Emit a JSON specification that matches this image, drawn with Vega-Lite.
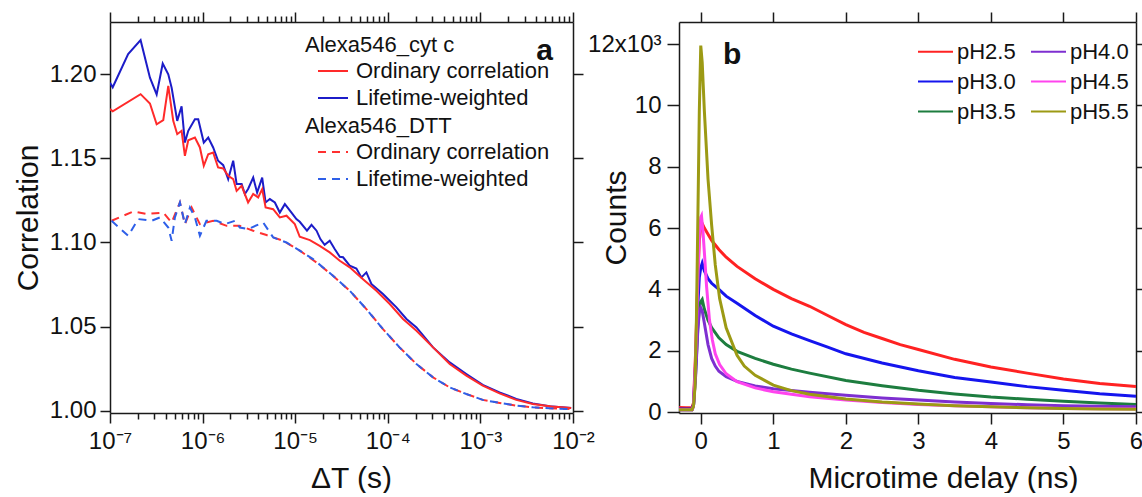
{
"$schema": "https://vega.github.io/schema/vega-lite/v6.json",
"padding": {"left": 13, "top": 11, "right": 0, "bottom": 0},
"spacing": 106,
"bounds": "flush",
"config": {
  "font": "Liberation Sans",
  "view": {"stroke": null},
  "axis": {"grid": false, "domainColor": "#1a1a1a", "domainWidth": 1.5, "tickColor": "#1a1a1a", "tickWidth": 1.5, "labelFont": "Liberation Sans", "labelFontSize": 24, "labelColor": "#111111", "titleFont": "Liberation Sans", "titleFontSize": 30, "titleFontWeight": "normal", "titleColor": "#111111", "labelFlush": false, "labelOverlap": false},
  "legend": {"labelFont": "Liberation Sans", "labelFontSize": 22, "labelColor": "#111111", "titleFont": "Liberation Sans", "titleFontSize": 22, "titleFontWeight": "normal", "titleColor": "#111111", "symbolType": "stroke", "padding": 0, "labelLimit": 400, "titleLimit": 400},
  "title": {"font": "Liberation Sans", "fontSize": 30, "fontWeight": "bold", "color": "#111111"}
},
"datasets": {
  "cyt": [
    {"t": 1.0e-7, "g": 1.195, "s": "Lifetime-weighted"},
    {"t": 1.07e-7, "g": 1.1923, "s": "Lifetime-weighted"},
    {"t": 1.57e-7, "g": 1.212, "s": "Lifetime-weighted"},
    {"t": 2.14e-7, "g": 1.2203, "s": "Lifetime-weighted"},
    {"t": 2.7e-7, "g": 1.198, "s": "Lifetime-weighted"},
    {"t": 3.19e-7, "g": 1.188, "s": "Lifetime-weighted"},
    {"t": 3.71e-7, "g": 1.2064, "s": "Lifetime-weighted"},
    {"t": 4.26e-7, "g": 1.2, "s": "Lifetime-weighted"},
    {"t": 4.63e-7, "g": 1.192, "s": "Lifetime-weighted"},
    {"t": 5.32e-7, "g": 1.1723, "s": "Lifetime-weighted"},
    {"t": 5.93e-7, "g": 1.181, "s": "Lifetime-weighted"},
    {"t": 6.44e-7, "g": 1.1594, "s": "Lifetime-weighted"},
    {"t": 7.0e-7, "g": 1.1664, "s": "Lifetime-weighted"},
    {"t": 8.26e-7, "g": 1.1733, "s": "Lifetime-weighted"},
    {"t": 8.97e-7, "g": 1.1733, "s": "Lifetime-weighted"},
    {"t": 1.03e-6, "g": 1.1594, "s": "Lifetime-weighted"},
    {"t": 1.15e-6, "g": 1.1624, "s": "Lifetime-weighted"},
    {"t": 1.3e-6, "g": 1.1565, "s": "Lifetime-weighted"},
    {"t": 1.47e-6, "g": 1.1486, "s": "Lifetime-weighted"},
    {"t": 1.67e-6, "g": 1.146, "s": "Lifetime-weighted"},
    {"t": 1.89e-6, "g": 1.1377, "s": "Lifetime-weighted"},
    {"t": 2.14e-6, "g": 1.1486, "s": "Lifetime-weighted"},
    {"t": 2.33e-6, "g": 1.1347, "s": "Lifetime-weighted"},
    {"t": 2.64e-6, "g": 1.1347, "s": "Lifetime-weighted"},
    {"t": 2.86e-6, "g": 1.1288, "s": "Lifetime-weighted"},
    {"t": 3.1e-6, "g": 1.1318, "s": "Lifetime-weighted"},
    {"t": 3.52e-6, "g": 1.1386, "s": "Lifetime-weighted"},
    {"t": 3.88e-6, "g": 1.1297, "s": "Lifetime-weighted"},
    {"t": 4.4e-6, "g": 1.1386, "s": "Lifetime-weighted"},
    {"t": 4.79e-6, "g": 1.1238, "s": "Lifetime-weighted"},
    {"t": 5.32e-6, "g": 1.1258, "s": "Lifetime-weighted"},
    {"t": 6.03e-6, "g": 1.1238, "s": "Lifetime-weighted"},
    {"t": 6.82e-6, "g": 1.1178, "s": "Lifetime-weighted"},
    {"t": 7.73e-6, "g": 1.1228, "s": "Lifetime-weighted"},
    {"t": 9.12e-6, "g": 1.1178, "s": "Lifetime-weighted"},
    {"t": 1.03e-5, "g": 1.1139, "s": "Lifetime-weighted"},
    {"t": 1.12e-5, "g": 1.1123, "s": "Lifetime-weighted"},
    {"t": 1.34e-5, "g": 1.107, "s": "Lifetime-weighted"},
    {"t": 1.5e-5, "g": 1.1105, "s": "Lifetime-weighted"},
    {"t": 1.7e-5, "g": 1.107, "s": "Lifetime-weighted"},
    {"t": 1.87e-5, "g": 1.102, "s": "Lifetime-weighted"},
    {"t": 2.08e-5, "g": 1.0986, "s": "Lifetime-weighted"},
    {"t": 2.36e-5, "g": 1.101, "s": "Lifetime-weighted"},
    {"t": 2.67e-5, "g": 1.0961, "s": "Lifetime-weighted"},
    {"t": 3.03e-5, "g": 1.0915, "s": "Lifetime-weighted"},
    {"t": 3.29e-5, "g": 1.0912, "s": "Lifetime-weighted"},
    {"t": 3.88e-5, "g": 1.0862, "s": "Lifetime-weighted"},
    {"t": 4.58e-5, "g": 1.0845, "s": "Lifetime-weighted"},
    {"t": 5.19e-5, "g": 1.0792, "s": "Lifetime-weighted"},
    {"t": 5.87e-5, "g": 1.0822, "s": "Lifetime-weighted"},
    {"t": 6.65e-5, "g": 1.0753, "s": "Lifetime-weighted"},
    {"t": 8.87e-5, "g": 1.0693, "s": "Lifetime-weighted"},
    {"t": 1.24e-4, "g": 1.0614, "s": "Lifetime-weighted"},
    {"t": 1.59e-4, "g": 1.0545, "s": "Lifetime-weighted"},
    {"t": 2.04e-4, "g": 1.0495, "s": "Lifetime-weighted"},
    {"t": 3.08e-4, "g": 1.0376, "s": "Lifetime-weighted"},
    {"t": 4.66e-4, "g": 1.0287, "s": "Lifetime-weighted"},
    {"t": 7.05e-4, "g": 1.0218, "s": "Lifetime-weighted"},
    {"t": 1.06e-3, "g": 1.0153, "s": "Lifetime-weighted"},
    {"t": 1.61e-3, "g": 1.0109, "s": "Lifetime-weighted"},
    {"t": 2.44e-3, "g": 1.007, "s": "Lifetime-weighted"},
    {"t": 3.68e-3, "g": 1.0043, "s": "Lifetime-weighted"},
    {"t": 5.57e-3, "g": 1.0026, "s": "Lifetime-weighted"},
    {"t": 9.55e-3, "g": 1.0016, "s": "Lifetime-weighted"},
    {"t": 1.0e-7, "g": 1.1793, "s": "Ordinary correlation"},
    {"t": 1.07e-7, "g": 1.178, "s": "Ordinary correlation"},
    {"t": 2.14e-7, "g": 1.1882, "s": "Ordinary correlation"},
    {"t": 2.7e-7, "g": 1.1826, "s": "Ordinary correlation"},
    {"t": 3.19e-7, "g": 1.1703, "s": "Ordinary correlation"},
    {"t": 3.76e-7, "g": 1.1727, "s": "Ordinary correlation"},
    {"t": 4.26e-7, "g": 1.1931, "s": "Ordinary correlation"},
    {"t": 4.82e-7, "g": 1.1723, "s": "Ordinary correlation"},
    {"t": 5.32e-7, "g": 1.1644, "s": "Ordinary correlation"},
    {"t": 5.93e-7, "g": 1.1664, "s": "Ordinary correlation"},
    {"t": 6.44e-7, "g": 1.1515, "s": "Ordinary correlation"},
    {"t": 7.0e-7, "g": 1.1608, "s": "Ordinary correlation"},
    {"t": 8.26e-7, "g": 1.1624, "s": "Ordinary correlation"},
    {"t": 9.35e-7, "g": 1.1565, "s": "Ordinary correlation"},
    {"t": 1.03e-6, "g": 1.1456, "s": "Ordinary correlation"},
    {"t": 1.15e-6, "g": 1.1525, "s": "Ordinary correlation"},
    {"t": 1.3e-6, "g": 1.1535, "s": "Ordinary correlation"},
    {"t": 1.47e-6, "g": 1.1446, "s": "Ordinary correlation"},
    {"t": 1.67e-6, "g": 1.144, "s": "Ordinary correlation"},
    {"t": 1.89e-6, "g": 1.1396, "s": "Ordinary correlation"},
    {"t": 2.14e-6, "g": 1.1377, "s": "Ordinary correlation"},
    {"t": 2.33e-6, "g": 1.1307, "s": "Ordinary correlation"},
    {"t": 2.64e-6, "g": 1.1337, "s": "Ordinary correlation"},
    {"t": 3.1e-6, "g": 1.1238, "s": "Ordinary correlation"},
    {"t": 3.52e-6, "g": 1.1288, "s": "Ordinary correlation"},
    {"t": 3.98e-6, "g": 1.1268, "s": "Ordinary correlation"},
    {"t": 4.4e-6, "g": 1.1317, "s": "Ordinary correlation"},
    {"t": 4.79e-6, "g": 1.1208, "s": "Ordinary correlation"},
    {"t": 5.78e-6, "g": 1.1198, "s": "Ordinary correlation"},
    {"t": 6.82e-6, "g": 1.1149, "s": "Ordinary correlation"},
    {"t": 8.05e-6, "g": 1.1159, "s": "Ordinary correlation"},
    {"t": 9.9e-6, "g": 1.1109, "s": "Ordinary correlation"},
    {"t": 1.12e-5, "g": 1.1034, "s": "Ordinary correlation"},
    {"t": 1.44e-5, "g": 1.1014, "s": "Ordinary correlation"},
    {"t": 1.84e-5, "g": 1.098, "s": "Ordinary correlation"},
    {"t": 2.36e-5, "g": 1.0941, "s": "Ordinary correlation"},
    {"t": 3.03e-5, "g": 1.0891, "s": "Ordinary correlation"},
    {"t": 3.88e-5, "g": 1.0852, "s": "Ordinary correlation"},
    {"t": 5.4e-5, "g": 1.0782, "s": "Ordinary correlation"},
    {"t": 7.53e-5, "g": 1.0713, "s": "Ordinary correlation"},
    {"t": 1.05e-4, "g": 1.0634, "s": "Ordinary correlation"},
    {"t": 1.46e-4, "g": 1.0545, "s": "Ordinary correlation"},
    {"t": 2.04e-4, "g": 1.0475, "s": "Ordinary correlation"},
    {"t": 3.08e-4, "g": 1.0376, "s": "Ordinary correlation"},
    {"t": 4.66e-4, "g": 1.0277, "s": "Ordinary correlation"},
    {"t": 7.05e-4, "g": 1.0208, "s": "Ordinary correlation"},
    {"t": 1.06e-3, "g": 1.0149, "s": "Ordinary correlation"},
    {"t": 1.61e-3, "g": 1.0103, "s": "Ordinary correlation"},
    {"t": 2.44e-3, "g": 1.0064, "s": "Ordinary correlation"},
    {"t": 3.68e-3, "g": 1.004, "s": "Ordinary correlation"},
    {"t": 5.87e-3, "g": 1.0024, "s": "Ordinary correlation"},
    {"t": 9.55e-3, "g": 1.0016, "s": "Ordinary correlation"}
  ],
  "dtt": [
    {"t": 1.04e-7, "g": 1.1129, "s": "Ordinary correlation"},
    {"t": 1.78e-7, "g": 1.1184, "s": "Ordinary correlation"},
    {"t": 2.49e-7, "g": 1.1169, "s": "Ordinary correlation"},
    {"t": 3.76e-7, "g": 1.1178, "s": "Ordinary correlation"},
    {"t": 4.63e-7, "g": 1.1119, "s": "Ordinary correlation"},
    {"t": 5.69e-7, "g": 1.1238, "s": "Ordinary correlation"},
    {"t": 6.44e-7, "g": 1.1109, "s": "Ordinary correlation"},
    {"t": 7.61e-7, "g": 1.1208, "s": "Ordinary correlation"},
    {"t": 9.35e-7, "g": 1.1109, "s": "Ordinary correlation"},
    {"t": 1.3e-6, "g": 1.1129, "s": "Ordinary correlation"},
    {"t": 1.82e-6, "g": 1.1099, "s": "Ordinary correlation"},
    {"t": 2.52e-6, "g": 1.1099, "s": "Ordinary correlation"},
    {"t": 3.52e-6, "g": 1.107, "s": "Ordinary correlation"},
    {"t": 4.9e-6, "g": 1.1044, "s": "Ordinary correlation"},
    {"t": 7.41e-6, "g": 1.101, "s": "Ordinary correlation"},
    {"t": 1.12e-5, "g": 1.0951, "s": "Ordinary correlation"},
    {"t": 1.7e-5, "g": 1.0881, "s": "Ordinary correlation"},
    {"t": 2.56e-5, "g": 1.0802, "s": "Ordinary correlation"},
    {"t": 3.88e-5, "g": 1.0713, "s": "Ordinary correlation"},
    {"t": 5.87e-5, "g": 1.0604, "s": "Ordinary correlation"},
    {"t": 8.87e-5, "g": 1.0485, "s": "Ordinary correlation"},
    {"t": 1.34e-4, "g": 1.0376, "s": "Ordinary correlation"},
    {"t": 2.04e-4, "g": 1.0277, "s": "Ordinary correlation"},
    {"t": 3.08e-4, "g": 1.0198, "s": "Ordinary correlation"},
    {"t": 4.66e-4, "g": 1.0138, "s": "Ordinary correlation"},
    {"t": 7.05e-4, "g": 1.0099, "s": "Ordinary correlation"},
    {"t": 1.06e-3, "g": 1.0064, "s": "Ordinary correlation"},
    {"t": 1.61e-3, "g": 1.0046, "s": "Ordinary correlation"},
    {"t": 2.44e-3, "g": 1.003, "s": "Ordinary correlation"},
    {"t": 3.68e-3, "g": 1.002, "s": "Ordinary correlation"},
    {"t": 5.57e-3, "g": 1.0014, "s": "Ordinary correlation"},
    {"t": 9.16e-3, "g": 1.001, "s": "Ordinary correlation"},
    {"t": 1.04e-7, "g": 1.1129, "s": "Lifetime-weighted"},
    {"t": 1.57e-7, "g": 1.104, "s": "Lifetime-weighted"},
    {"t": 2.02e-7, "g": 1.1139, "s": "Lifetime-weighted"},
    {"t": 2.82e-7, "g": 1.1129, "s": "Lifetime-weighted"},
    {"t": 3.46e-7, "g": 1.1149, "s": "Lifetime-weighted"},
    {"t": 4.26e-7, "g": 1.1089, "s": "Lifetime-weighted"},
    {"t": 4.63e-7, "g": 1.101, "s": "Lifetime-weighted"},
    {"t": 5.02e-7, "g": 1.1149, "s": "Lifetime-weighted"},
    {"t": 5.69e-7, "g": 1.1238, "s": "Lifetime-weighted"},
    {"t": 6.44e-7, "g": 1.1109, "s": "Lifetime-weighted"},
    {"t": 7.3e-7, "g": 1.1208, "s": "Lifetime-weighted"},
    {"t": 8.26e-7, "g": 1.1149, "s": "Lifetime-weighted"},
    {"t": 9.35e-7, "g": 1.104, "s": "Lifetime-weighted"},
    {"t": 1.1e-6, "g": 1.1129, "s": "Lifetime-weighted"},
    {"t": 1.42e-6, "g": 1.1129, "s": "Lifetime-weighted"},
    {"t": 1.74e-6, "g": 1.1109, "s": "Lifetime-weighted"},
    {"t": 2.23e-6, "g": 1.1129, "s": "Lifetime-weighted"},
    {"t": 2.52e-6, "g": 1.1089, "s": "Lifetime-weighted"},
    {"t": 3.1e-6, "g": 1.108, "s": "Lifetime-weighted"},
    {"t": 4.51e-6, "g": 1.1119, "s": "Lifetime-weighted"},
    {"t": 5.78e-6, "g": 1.103, "s": "Lifetime-weighted"},
    {"t": 8.05e-6, "g": 1.1, "s": "Lifetime-weighted"},
    {"t": 1.12e-5, "g": 1.0951, "s": "Lifetime-weighted"},
    {"t": 1.56e-5, "g": 1.0901, "s": "Lifetime-weighted"},
    {"t": 2.56e-5, "g": 1.0802, "s": "Lifetime-weighted"},
    {"t": 3.88e-5, "g": 1.0713, "s": "Lifetime-weighted"},
    {"t": 5.87e-5, "g": 1.0604, "s": "Lifetime-weighted"},
    {"t": 8.87e-5, "g": 1.0485, "s": "Lifetime-weighted"},
    {"t": 1.34e-4, "g": 1.0376, "s": "Lifetime-weighted"},
    {"t": 2.04e-4, "g": 1.0277, "s": "Lifetime-weighted"},
    {"t": 3.08e-4, "g": 1.0198, "s": "Lifetime-weighted"},
    {"t": 4.66e-4, "g": 1.0138, "s": "Lifetime-weighted"},
    {"t": 7.05e-4, "g": 1.0099, "s": "Lifetime-weighted"},
    {"t": 1.06e-3, "g": 1.0064, "s": "Lifetime-weighted"},
    {"t": 1.61e-3, "g": 1.0046, "s": "Lifetime-weighted"},
    {"t": 2.44e-3, "g": 1.003, "s": "Lifetime-weighted"},
    {"t": 3.68e-3, "g": 1.002, "s": "Lifetime-weighted"},
    {"t": 5.57e-3, "g": 1.0014, "s": "Lifetime-weighted"},
    {"t": 9.16e-3, "g": 1.001, "s": "Lifetime-weighted"}
  ],
  "decay": [
    {"t": -0.3, "c": 0.15, "p": "pH2.5"}, {"t": -0.2, "c": 0.14, "p": "pH2.5"}, {"t": -0.12, "c": 0.15, "p": "pH2.5"}, {"t": -0.1, "c": 0.3, "p": "pH2.5"}, {"t": -0.07, "c": 2.0, "p": "pH2.5"}, {"t": -0.04, "c": 4.4, "p": "pH2.5"}, {"t": -0.02, "c": 5.6, "p": "pH2.5"}, {"t": 0, "c": 6.0, "p": "pH2.5"}, {"t": 0.02, "c": 6.15, "p": "pH2.5"}, {"t": 0.05, "c": 6.0, "p": "pH2.5"}, {"t": 0.1, "c": 5.8, "p": "pH2.5"}, {"t": 0.15, "c": 5.6, "p": "pH2.5"}, {"t": 0.2, "c": 5.45, "p": "pH2.5"}, {"t": 0.25, "c": 5.3, "p": "pH2.5"}, {"t": 0.35, "c": 5.05, "p": "pH2.5"}, {"t": 0.5, "c": 4.75, "p": "pH2.5"}, {"t": 0.75, "c": 4.35, "p": "pH2.5"}, {"t": 1.0, "c": 4.0, "p": "pH2.5"}, {"t": 1.25, "c": 3.7, "p": "pH2.5"}, {"t": 1.5, "c": 3.45, "p": "pH2.5"}, {"t": 1.75, "c": 3.15, "p": "pH2.5"}, {"t": 2.0, "c": 2.85, "p": "pH2.5"}, {"t": 2.25, "c": 2.6, "p": "pH2.5"}, {"t": 2.5, "c": 2.4, "p": "pH2.5"}, {"t": 2.75, "c": 2.2, "p": "pH2.5"}, {"t": 3.0, "c": 2.04, "p": "pH2.5"}, {"t": 3.5, "c": 1.72, "p": "pH2.5"}, {"t": 4.0, "c": 1.47, "p": "pH2.5"}, {"t": 4.5, "c": 1.27, "p": "pH2.5"}, {"t": 5.0, "c": 1.08, "p": "pH2.5"}, {"t": 5.5, "c": 0.93, "p": "pH2.5"}, {"t": 6.0, "c": 0.83, "p": "pH2.5"},
    {"t": -0.3, "c": 0.1, "p": "pH3.0"}, {"t": -0.12, "c": 0.1, "p": "pH3.0"}, {"t": -0.1, "c": 0.25, "p": "pH3.0"}, {"t": -0.07, "c": 1.6, "p": "pH3.0"}, {"t": -0.04, "c": 3.5, "p": "pH3.0"}, {"t": -0.02, "c": 4.4, "p": "pH3.0"}, {"t": 0, "c": 4.7, "p": "pH3.0"}, {"t": 0.02, "c": 4.85, "p": "pH3.0"}, {"t": 0.05, "c": 4.6, "p": "pH3.0"}, {"t": 0.1, "c": 4.35, "p": "pH3.0"}, {"t": 0.15, "c": 4.2, "p": "pH3.0"}, {"t": 0.25, "c": 4.0, "p": "pH3.0"}, {"t": 0.35, "c": 3.78, "p": "pH3.0"}, {"t": 0.5, "c": 3.55, "p": "pH3.0"}, {"t": 0.75, "c": 3.15, "p": "pH3.0"}, {"t": 1.0, "c": 2.8, "p": "pH3.0"}, {"t": 1.25, "c": 2.55, "p": "pH3.0"}, {"t": 1.5, "c": 2.33, "p": "pH3.0"}, {"t": 1.75, "c": 2.12, "p": "pH3.0"}, {"t": 2.0, "c": 1.9, "p": "pH3.0"}, {"t": 2.5, "c": 1.6, "p": "pH3.0"}, {"t": 3.0, "c": 1.35, "p": "pH3.0"}, {"t": 3.5, "c": 1.13, "p": "pH3.0"}, {"t": 4.0, "c": 0.98, "p": "pH3.0"}, {"t": 4.5, "c": 0.83, "p": "pH3.0"}, {"t": 5.0, "c": 0.71, "p": "pH3.0"}, {"t": 5.5, "c": 0.6, "p": "pH3.0"}, {"t": 6.0, "c": 0.52, "p": "pH3.0"},
    {"t": -0.3, "c": 0.08, "p": "pH3.5"}, {"t": -0.12, "c": 0.08, "p": "pH3.5"}, {"t": -0.1, "c": 0.2, "p": "pH3.5"}, {"t": -0.07, "c": 1.3, "p": "pH3.5"}, {"t": -0.04, "c": 2.8, "p": "pH3.5"}, {"t": -0.02, "c": 3.4, "p": "pH3.5"}, {"t": 0, "c": 3.6, "p": "pH3.5"}, {"t": 0.02, "c": 3.67, "p": "pH3.5"}, {"t": 0.05, "c": 3.35, "p": "pH3.5"}, {"t": 0.1, "c": 3.0, "p": "pH3.5"}, {"t": 0.15, "c": 2.75, "p": "pH3.5"}, {"t": 0.25, "c": 2.42, "p": "pH3.5"}, {"t": 0.35, "c": 2.2, "p": "pH3.5"}, {"t": 0.5, "c": 1.98, "p": "pH3.5"}, {"t": 0.75, "c": 1.75, "p": "pH3.5"}, {"t": 1.0, "c": 1.56, "p": "pH3.5"}, {"t": 1.25, "c": 1.4, "p": "pH3.5"}, {"t": 1.5, "c": 1.27, "p": "pH3.5"}, {"t": 2.0, "c": 1.03, "p": "pH3.5"}, {"t": 2.5, "c": 0.86, "p": "pH3.5"}, {"t": 3.0, "c": 0.71, "p": "pH3.5"}, {"t": 3.5, "c": 0.59, "p": "pH3.5"}, {"t": 4.0, "c": 0.49, "p": "pH3.5"}, {"t": 4.5, "c": 0.42, "p": "pH3.5"}, {"t": 5.0, "c": 0.35, "p": "pH3.5"}, {"t": 5.5, "c": 0.3, "p": "pH3.5"}, {"t": 6.0, "c": 0.25, "p": "pH3.5"},
    {"t": -0.3, "c": 0.08, "p": "pH4.0"}, {"t": -0.12, "c": 0.08, "p": "pH4.0"}, {"t": -0.1, "c": 0.2, "p": "pH4.0"}, {"t": -0.07, "c": 1.2, "p": "pH4.0"}, {"t": -0.04, "c": 2.7, "p": "pH4.0"}, {"t": -0.02, "c": 3.25, "p": "pH4.0"}, {"t": 0, "c": 3.4, "p": "pH4.0"}, {"t": 0.02, "c": 3.3, "p": "pH4.0"}, {"t": 0.05, "c": 2.9, "p": "pH4.0"}, {"t": 0.1, "c": 2.2, "p": "pH4.0"}, {"t": 0.15, "c": 1.75, "p": "pH4.0"}, {"t": 0.2, "c": 1.5, "p": "pH4.0"}, {"t": 0.25, "c": 1.33, "p": "pH4.0"}, {"t": 0.35, "c": 1.15, "p": "pH4.0"}, {"t": 0.5, "c": 1.0, "p": "pH4.0"}, {"t": 0.75, "c": 0.85, "p": "pH4.0"}, {"t": 1.0, "c": 0.76, "p": "pH4.0"}, {"t": 1.5, "c": 0.65, "p": "pH4.0"}, {"t": 2.0, "c": 0.55, "p": "pH4.0"}, {"t": 2.5, "c": 0.46, "p": "pH4.0"}, {"t": 3.0, "c": 0.39, "p": "pH4.0"}, {"t": 3.5, "c": 0.33, "p": "pH4.0"}, {"t": 4.0, "c": 0.28, "p": "pH4.0"}, {"t": 4.5, "c": 0.24, "p": "pH4.0"}, {"t": 5.0, "c": 0.21, "p": "pH4.0"}, {"t": 5.5, "c": 0.19, "p": "pH4.0"}, {"t": 6.0, "c": 0.17, "p": "pH4.0"},
    {"t": -0.3, "c": 0.08, "p": "pH4.5"}, {"t": -0.12, "c": 0.08, "p": "pH4.5"}, {"t": -0.1, "c": 0.2, "p": "pH4.5"}, {"t": -0.07, "c": 1.8, "p": "pH4.5"}, {"t": -0.04, "c": 4.3, "p": "pH4.5"}, {"t": -0.02, "c": 5.8, "p": "pH4.5"}, {"t": 0, "c": 6.35, "p": "pH4.5"}, {"t": 0.01, "c": 6.4, "p": "pH4.5"}, {"t": 0.03, "c": 5.9, "p": "pH4.5"}, {"t": 0.05, "c": 5.2, "p": "pH4.5"}, {"t": 0.08, "c": 4.1, "p": "pH4.5"}, {"t": 0.12, "c": 3.0, "p": "pH4.5"}, {"t": 0.16, "c": 2.35, "p": "pH4.5"}, {"t": 0.2, "c": 1.9, "p": "pH4.5"}, {"t": 0.26, "c": 1.55, "p": "pH4.5"}, {"t": 0.35, "c": 1.25, "p": "pH4.5"}, {"t": 0.5, "c": 0.99, "p": "pH4.5"}, {"t": 0.75, "c": 0.79, "p": "pH4.5"}, {"t": 1.0, "c": 0.66, "p": "pH4.5"}, {"t": 1.5, "c": 0.5, "p": "pH4.5"}, {"t": 2.0, "c": 0.39, "p": "pH4.5"}, {"t": 2.5, "c": 0.31, "p": "pH4.5"}, {"t": 3.0, "c": 0.25, "p": "pH4.5"}, {"t": 3.5, "c": 0.21, "p": "pH4.5"}, {"t": 4.0, "c": 0.17, "p": "pH4.5"}, {"t": 4.5, "c": 0.14, "p": "pH4.5"}, {"t": 5.0, "c": 0.12, "p": "pH4.5"}, {"t": 5.5, "c": 0.11, "p": "pH4.5"}, {"t": 6.0, "c": 0.1, "p": "pH4.5"},
    {"t": -0.3, "c": 0.08, "p": "pH5.5"}, {"t": -0.12, "c": 0.08, "p": "pH5.5"}, {"t": -0.1, "c": 0.2, "p": "pH5.5"}, {"t": -0.08, "c": 0.8, "p": "pH5.5"}, {"t": -0.06, "c": 3.0, "p": "pH5.5"}, {"t": -0.04, "c": 6.3, "p": "pH5.5"}, {"t": -0.02, "c": 9.8, "p": "pH5.5"}, {"t": 0, "c": 11.95, "p": "pH5.5"}, {"t": 0.02, "c": 11.4, "p": "pH5.5"}, {"t": 0.05, "c": 9.8, "p": "pH5.5"}, {"t": 0.1, "c": 7.6, "p": "pH5.5"}, {"t": 0.15, "c": 6.1, "p": "pH5.5"}, {"t": 0.2, "c": 4.8, "p": "pH5.5"}, {"t": 0.26, "c": 3.7, "p": "pH5.5"}, {"t": 0.35, "c": 2.75, "p": "pH5.5"}, {"t": 0.5, "c": 1.85, "p": "pH5.5"}, {"t": 0.6, "c": 1.5, "p": "pH5.5"}, {"t": 0.75, "c": 1.2, "p": "pH5.5"}, {"t": 1.0, "c": 0.88, "p": "pH5.5"}, {"t": 1.25, "c": 0.7, "p": "pH5.5"}, {"t": 1.5, "c": 0.58, "p": "pH5.5"}, {"t": 2.0, "c": 0.43, "p": "pH5.5"}, {"t": 2.5, "c": 0.33, "p": "pH5.5"}, {"t": 3.0, "c": 0.26, "p": "pH5.5"}, {"t": 3.5, "c": 0.21, "p": "pH5.5"}, {"t": 4.0, "c": 0.17, "p": "pH5.5"}, {"t": 4.5, "c": 0.14, "p": "pH5.5"}, {"t": 5.0, "c": 0.12, "p": "pH5.5"}, {"t": 5.5, "c": 0.1, "p": "pH5.5"}, {"t": 6.0, "c": 0.09, "p": "pH5.5"}
  ]
},
"hconcat": [
  {
    "width": 463,
    "height": 391,
    "title": {"text": "a", "anchor": "end", "frame": "group", "baseline": "alphabetic", "offset": 0, "dx": -20, "dy": 79},
    "layer": [
      {
        "data": {"name": "cyt"},
        "mark": {"type": "line", "strokeWidth": 2, "clip": true},
        "encoding": {
          "x": {"field": "t", "type": "quantitative", "scale": {"type": "log", "domain": [1e-7, 0.01], "nice": false},
                "axis": {"orient": "bottom", "values": [1e-7, 1e-6, 1e-5, 1e-4, 1e-3, 1e-2], "labelExpr": "datum.value < 5e-7 ? '10⁻⁷' : datum.value < 5e-6 ? '10⁻⁶' : datum.value < 5e-5 ? '10⁻⁵' : datum.value < 5e-4 ? '10⁻⁴' : datum.value < 5e-3 ? '10⁻³' : '10⁻²'", "tickSize": 10, "labelPadding": 6, "title": "ΔT (s)", "titleX": 241, "titleY": 74, "titleAlign": "center", "titleBaseline": "alphabetic"}},
          "y": {"field": "g", "type": "quantitative", "scale": {"domain": [0.9986, 1.2311], "nice": false, "zero": false},
                "axis": {"orient": "left", "values": [1.0, 1.05, 1.1, 1.15, 1.2], "format": ".2f", "tickSize": 10, "labelPadding": 4, "title": "Correlation", "titleX": -73, "titleY": 195.5, "titleAngle": -90, "titleAlign": "center", "titleBaseline": "alphabetic"}},
          "color": {"field": "s", "type": "nominal", "scale": {"domain": ["Ordinary correlation", "Lifetime-weighted"], "range": ["#ff2a2a", "#1c1cc8"]},
                "legend": {"title": "Alexa546_cyt c", "orient": "none", "legendX": 195, "legendY": 13, "symbolSize": 900, "symbolStrokeWidth": 2, "symbolOffset": 12, "labelOffset": 7, "rowPadding": 0, "titlePadding": -2}}
        }
      },
      {
        "data": {"name": "dtt"},
        "mark": {"type": "line", "strokeWidth": 2, "strokeDash": [8, 6], "clip": true},
        "encoding": {
          "x": {"field": "t", "type": "quantitative", "scale": {"type": "log", "domain": [1e-7, 0.01], "nice": false},
                "axis": {"orient": "top", "values": [1e-7, 1e-6, 1e-5, 1e-4, 1e-3, 1e-2], "labels": false, "tickSize": 10, "title": null}},
          "y": {"field": "g", "type": "quantitative", "scale": {"domain": [0.9986, 1.2311], "nice": false, "zero": false},
                "axis": {"orient": "right", "values": [1.0, 1.05, 1.1, 1.15, 1.2], "labels": false, "tickSize": 10, "title": null}},
          "color": {"field": "s", "type": "nominal", "scale": {"domain": ["Ordinary correlation", "Lifetime-weighted"], "range": ["#ff3030", "#2e5fe8"]},
                "legend": {"title": "Alexa546_DTT", "orient": "none", "legendX": 195, "legendY": 94, "symbolSize": 900, "symbolStrokeWidth": 2, "symbolDash": [8, 6], "symbolOffset": 12, "labelOffset": 7, "rowPadding": 0, "titlePadding": -2}}
        }
      },
      {
        "data": {"name": "cyt"},
        "mark": {"type": "point", "opacity": 0},
        "encoding": {
          "x": {"field": "t", "type": "quantitative", "scale": {"type": "log", "domain": [1e-7, 0.01], "nice": false},
                "axis": {"orient": "bottom", "values": [2e-7,3e-7,4e-7,5e-7,6e-7,7e-7,8e-7,9e-7,2e-6,3e-6,4e-6,5e-6,6e-6,7e-6,8e-6,9e-6,2e-5,3e-5,4e-5,5e-5,6e-5,7e-5,8e-5,9e-5,2e-4,3e-4,4e-4,5e-4,6e-4,7e-4,8e-4,9e-4,0.002,0.003,0.004,0.005,0.006,0.007,0.008,0.009], "labels": false, "domain": false, "tickSize": 6, "title": null}},
          "y": {"field": "g", "type": "quantitative", "scale": {"domain": [0.9986, 1.2311], "nice": false, "zero": false}, "axis": null}
        }
      },
      {
        "data": {"name": "cyt"},
        "mark": {"type": "point", "opacity": 0},
        "encoding": {
          "x": {"field": "t", "type": "quantitative", "scale": {"type": "log", "domain": [1e-7, 0.01], "nice": false},
                "axis": {"orient": "top", "values": [2e-7,3e-7,4e-7,5e-7,6e-7,7e-7,8e-7,9e-7,2e-6,3e-6,4e-6,5e-6,6e-6,7e-6,8e-6,9e-6,2e-5,3e-5,4e-5,5e-5,6e-5,7e-5,8e-5,9e-5,2e-4,3e-4,4e-4,5e-4,6e-4,7e-4,8e-4,9e-4,0.002,0.003,0.004,0.005,0.006,0.007,0.008,0.009], "labels": false, "domain": false, "tickSize": 6, "title": null}},
          "y": {"field": "g", "type": "quantitative", "scale": {"domain": [0.9986, 1.2311], "nice": false, "zero": false}, "axis": null}
        }
      }
    ],
    "resolve": {"scale": {"color": "independent"}, "axis": {"x": "independent", "y": "independent"}}
  },
  {
    "width": 457,
    "height": 391,
    "title": {"text": "b", "anchor": "start", "frame": "group", "baseline": "alphabetic", "offset": 0, "dx": 44, "dy": 83},
    "layer": [
      {
        "data": {"name": "decay"},
        "mark": {"type": "line", "strokeWidth": 3, "clip": true},
        "encoding": {
          "x": {"field": "t", "type": "quantitative", "scale": {"domain": [-0.3, 6], "nice": false, "zero": false},
                "axis": {"orient": "bottom", "values": [0, 1, 2, 3, 4, 5, 6], "format": "d", "tickSize": 11, "labelPadding": 5, "title": "Microtime delay (ns)", "titleX": 264, "titleY": 74, "titleAlign": "center", "titleBaseline": "alphabetic"}},
          "y": {"field": "c", "type": "quantitative", "scale": {"domain": [-0.03, 12.72], "nice": false, "zero": false},
                "axis": {"orient": "left", "values": [0, 2, 4, 6, 8, 10, 12], "labelExpr": "datum.value == 12 ? '12x10³' : datum.label", "tickSize": 12, "labelPadding": 6, "title": "Counts", "titleX": -54, "titleY": 195.5, "titleAngle": -90, "titleAlign": "center", "titleBaseline": "alphabetic"}},
          "color": {"field": "p", "type": "nominal", "scale": {"domain": ["pH2.5", "pH3.0", "pH3.5", "pH4.0", "pH4.5", "pH5.5"], "range": ["#ff2222", "#1515ee", "#1d7d3f", "#7e2fd0", "#ff44ee", "#9c9a14"]},
                "legend": {"title": null, "orient": "none", "legendX": 807, "legendY": 11, "columns": 2, "columnPadding": 11, "rowPadding": 0, "symbolSize": 1225, "symbolStrokeWidth": 2, "labelOffset": 3}}
        }
      },
      {
        "data": {"name": "decay"},
        "mark": {"type": "point", "opacity": 0},
        "encoding": {
          "x": {"field": "t", "type": "quantitative", "scale": {"domain": [-0.3, 6], "nice": false, "zero": false},
                "axis": {"orient": "top", "values": [0, 1, 2, 3, 4, 5, 6], "labels": false, "tickSize": 10, "title": null}},
          "y": {"field": "c", "type": "quantitative", "scale": {"domain": [-0.03, 12.72], "nice": false, "zero": false},
                "axis": {"orient": "right", "values": [0, 2, 4, 6, 8, 10, 12], "labels": false, "tickSize": 6, "title": null}}
        }
      }
    ],
    "resolve": {"axis": {"x": "independent", "y": "independent"}}
  }
]
}
